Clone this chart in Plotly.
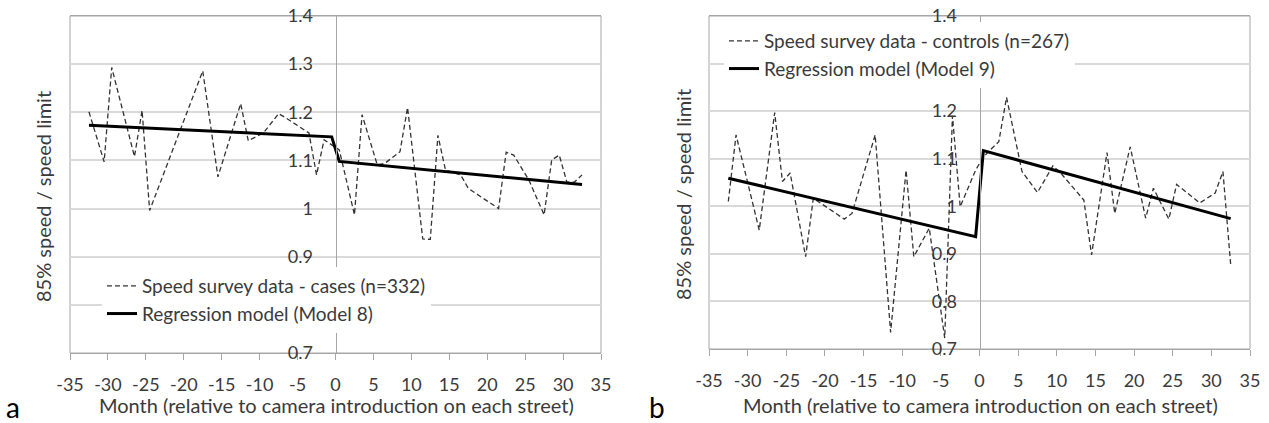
import plotly.graph_objects as go

# ---------------------------------------------------------------
# Data
# ---------------------------------------------------------------
cases_months = [-32.5, -30.5, -29.5, -26.5, -25.5, -24.5, -17.5, -15.5, -12.5, -11.5,
                -9.5, -7.5, -6.5, -3.5, -2.5, -1.5, 0.5, 2.5, 3.5, 5.5,
                6.5, 8.5, 9.5, 11.5, 12.5, 13.5, 14.5, 16.5, 17.5, 21.5,
                22.5, 23.5, 25.5, 27.5, 28.5, 29.5, 30.5, 31.5, 32.5]
cases_speed = [1.201, 1.097, 1.293, 1.108, 1.204, 0.996, 1.286, 1.066, 1.218, 1.141,
               1.157, 1.197, 1.188, 1.157, 1.070, 1.143, 1.122, 0.987, 1.195, 1.091,
               1.094, 1.118, 1.210, 0.937, 0.936, 1.152, 1.080, 1.070, 1.042, 1.000,
               1.117, 1.111, 1.059, 0.987, 1.101, 1.111, 1.055, 1.055, 1.070]

model8_months = [-32.5, -0.5, 0.5, 32.5]
model8_speed = [1.173, 1.149, 1.098, 1.050]

controls_months = [-32.5, -31.5, -28.5, -26.5, -25.5, -24.5, -22.5, -21.5, -17.5, -16.5,
                   -13.5, -11.5, -9.5, -8.5, -6.5, -4.5, -3.5, -2.5, -0.5, 0.5,
                   2.5, 3.5, 5.5, 7.5, 9.5, 10.5, 13.5, 14.5, 16.5, 17.5,
                   19.5, 21.5, 22.5, 24.5, 25.5, 28.5, 30.5, 31.5, 32.5]
controls_speed = [1.010, 1.150, 0.950, 1.197, 1.052, 1.070, 0.894, 1.017, 0.973, 0.985,
                  1.150, 0.735, 1.076, 0.894, 0.954, 0.723, 1.190, 0.999, 1.076, 1.104,
                  1.136, 1.229, 1.073, 1.029, 1.085, 1.070, 1.013, 0.898, 1.113, 0.985,
                  1.125, 0.975, 1.038, 0.973, 1.046, 1.007, 1.028, 1.073, 0.877]

model9_months = [-32.5, -0.5, 0.5, 32.5]
model9_speed = [1.059, 0.936, 1.117, 0.974]

x_ticks = [-35, -30, -25, -20, -15, -10, -5, 0, 5, 10, 15, 20, 25, 30, 35]
x_tick_labels = ["-35", "-30", "-25", "-20", "-15", "-10", "-5", "0",
                 "5", "10", "15", "20", "25", "30", "35"]
y_ticks = [0.7, 0.8, 0.9, 1.0, 1.1, 1.2, 1.3, 1.4]
y_tick_labels = ["0.7", "0.8", "0.9", "1", "1.1", "1.2", "1.3", "1.4"]

# ---------------------------------------------------------------
# Layout helpers (pixel -> paper)
# ---------------------------------------------------------------
W, H = 1269, 423
FONT = "Lato"
TEXT = "#3a3a3a"
GRID = "#d9d9d9"
AXIS = "#a6a6a6"


def px(x):
    return x / W


def py(y):
    return 1 - y / H


fig = go.Figure()

fig.add_trace(go.Scatter(
    x=cases_months, y=cases_speed, mode="lines",
    name="Speed survey data - cases (n=332)",
    line=dict(color="#333333", width=1.3, dash="5px,3px"),
    xaxis="x", yaxis="y", legend="legend",
))
fig.add_trace(go.Scatter(
    x=model8_months, y=model8_speed, mode="lines",
    name="Regression model (Model 8)",
    line=dict(color="#000000", width=3),
    xaxis="x", yaxis="y", legend="legend",
))
fig.add_trace(go.Scatter(
    x=controls_months, y=controls_speed, mode="lines",
    name="Speed survey data - controls (n=267)",
    line=dict(color="#333333", width=1.3, dash="5px,3px"),
    xaxis="x2", yaxis="y2", legend="legend2",
))
fig.add_trace(go.Scatter(
    x=model9_months, y=model9_speed, mode="lines",
    name="Regression model (Model 9)",
    line=dict(color="#000000", width=3),
    xaxis="x2", yaxis="y2", legend="legend2",
))

xaxis_style = dict(
    range=[-35, 35], tickvals=x_ticks, ticktext=x_tick_labels,
    showgrid=False, zeroline=False, showline=True, linecolor=AXIS, linewidth=1,
    mirror=True, ticks="outside", ticklen=6, tickcolor=AXIS,
    tickfont=dict(family=FONT, size=18, color=TEXT), ticklabelstandoff=9,
)
yaxis_style = dict(
    range=[0.7, 1.4], tickvals=y_ticks, ticktext=y_tick_labels,
    showgrid=True, gridcolor=GRID, gridwidth=1.5, zeroline=False,
    showline=True, linecolor=AXIS, linewidth=1, ticks="",
    tickfont=dict(family=FONT, size=18, color=TEXT), ticklabelstandoff=19,
    anchor="free",
)

legend_style = dict(
    xanchor="left", yanchor="top", bgcolor="white",
    font=dict(family=FONT, size=19, color=TEXT),
    itemwidth=30, tracegroupgap=0,
)

fig.update_layout(
    width=W, height=H,
    margin=dict(l=0, r=0, t=0, b=0, autoexpand=False),
    paper_bgcolor="white", plot_bgcolor="white",
    font=dict(family=FONT, color=TEXT),
    xaxis=dict(domain=[px(70), px(601)], anchor="y", **xaxis_style),
    yaxis=dict(domain=[py(353), py(16)], position=px(335.5), **yaxis_style),
    xaxis2=dict(domain=[px(709), px(1250)], anchor="y2", **xaxis_style),
    yaxis2=dict(domain=[py(349), py(16)], position=px(979.5), **yaxis_style),
    legend=dict(x=px(102), y=py(267), **legend_style),
    legend2=dict(x=px(724), y=py(22), **legend_style),
)

# plot-area frames (left/right edges)
for xr, yr in [("x", "y"), ("x2", "y2")]:
    fig.add_shape(type="rect", xref=f"{xr} domain", yref=f"{yr} domain",
                  x0=0, x1=1, y0=0, y1=1, line=dict(color=AXIS, width=1),
                  layer="below")

# axis titles and panel letters
ytitle = "85% speed / speed limit"
xtitle = "Month (relative to camera introduction on each street)"
notes = [
    dict(x=px(43), y=py(197), text=ytitle, textangle=-90),
    dict(x=px(683), y=py(195), text=ytitle, textangle=-90),
    dict(x=px(336), y=py(405), text=xtitle, textangle=0),
    dict(x=px(980), y=py(405), text=xtitle, textangle=0),
]
for n in notes:
    fig.add_annotation(x=n["x"], y=n["y"], xref="paper", yref="paper",
                       text=n["text"], textangle=n["textangle"], showarrow=False,
                       xanchor="center", yanchor="middle",
                       font=dict(family=FONT, size=20, color=TEXT))

for letter, lx in [("a", 13), ("b", 657)]:
    fig.add_annotation(x=px(lx), y=py(407), xref="paper", yref="paper",
                       text=letter, showarrow=False, xanchor="center",
                       yanchor="middle", font=dict(family=FONT, size=28, color="#000000"))

# drop the default page margin so the figure sits at the window's corner
fig.write_html("out.html", config={"displayModeBar": False},
               post_script="document.body.style.margin='0';")
